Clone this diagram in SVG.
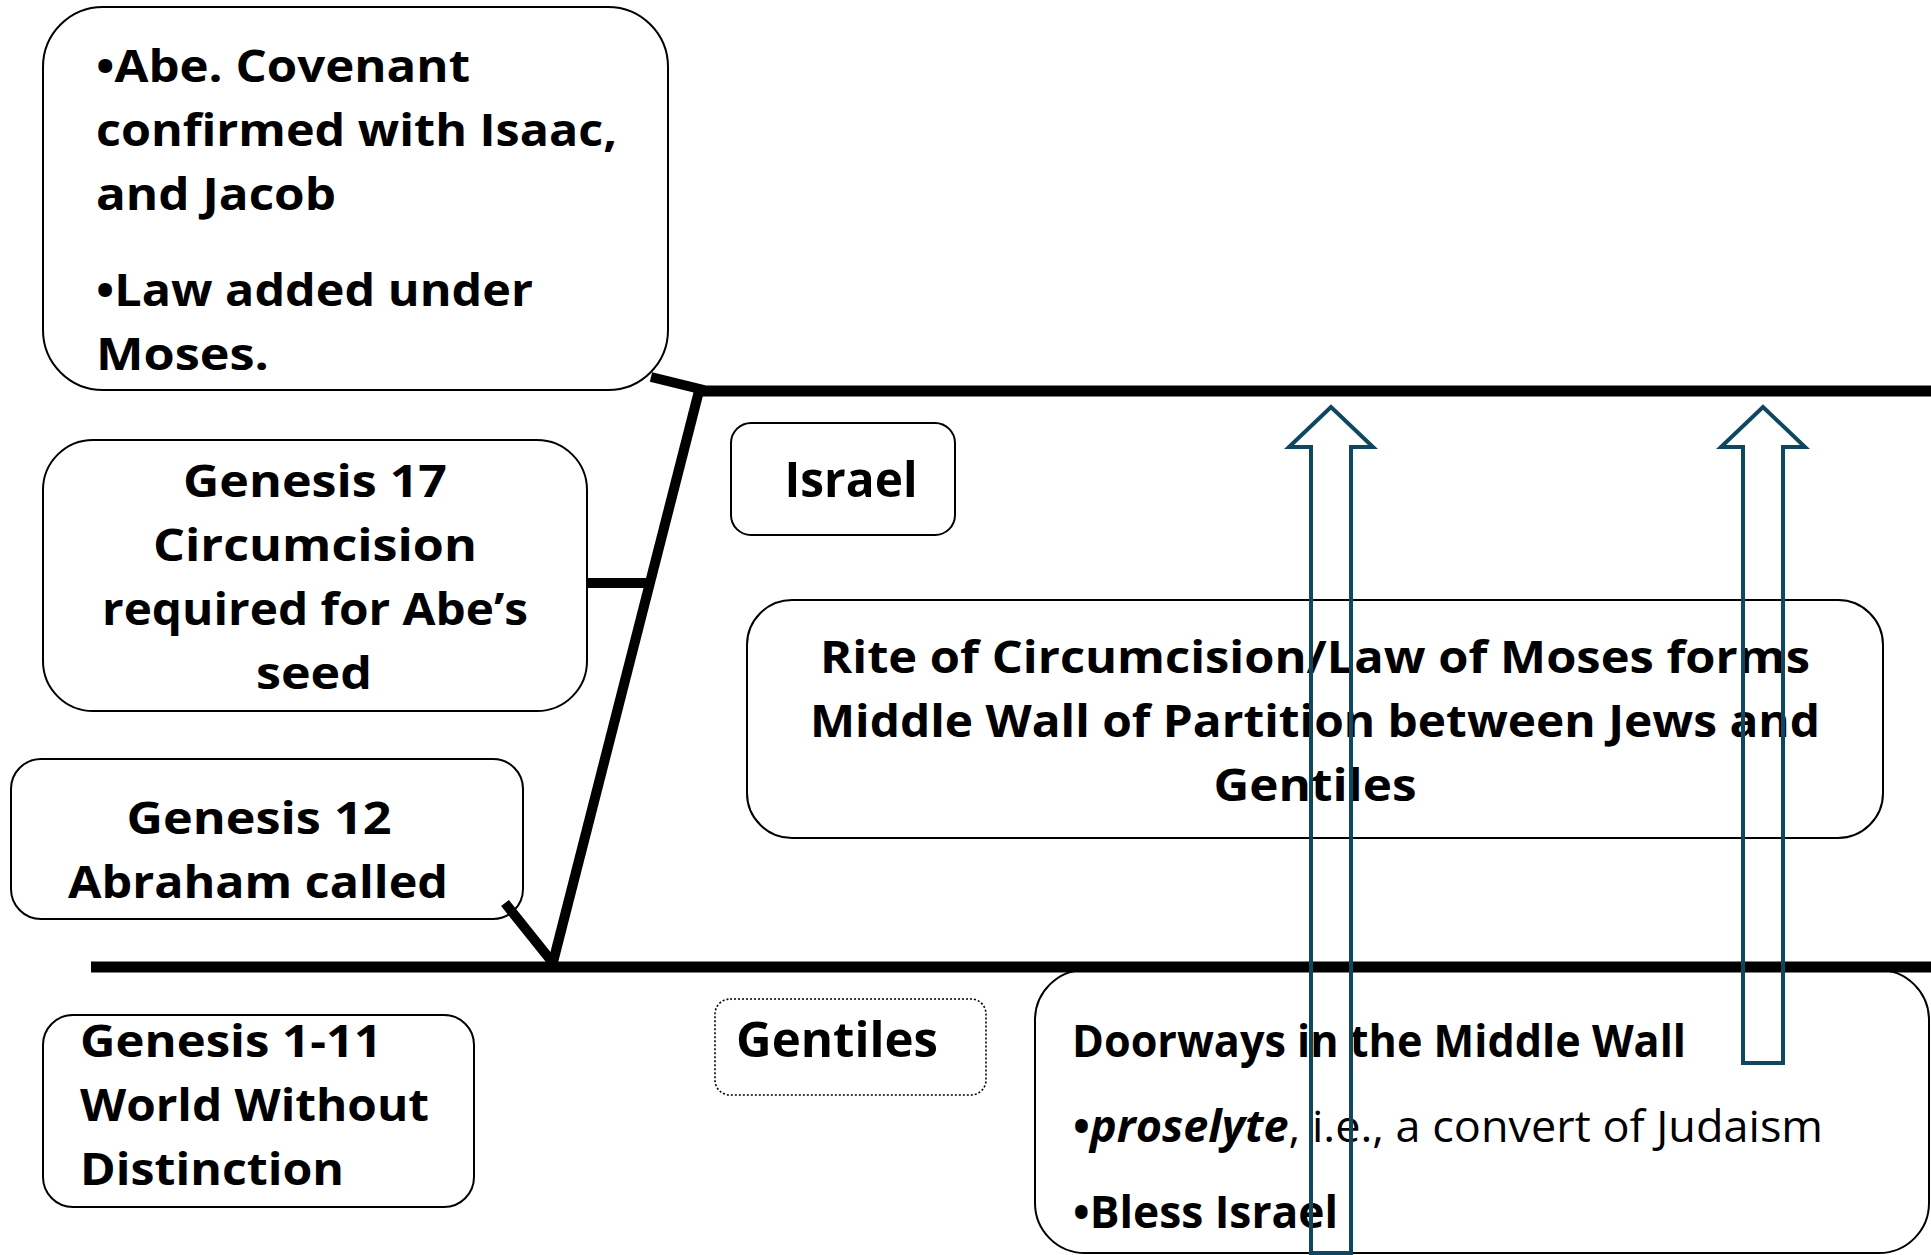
<svg xmlns="http://www.w3.org/2000/svg" width="1931" height="1255" viewBox="0 0 1931 1255">
<style>
.box{fill:#fff;stroke:#000;stroke-width:2}
.dot{fill:#fff;stroke:#000;stroke-width:1.6;stroke-dasharray:2 2}
.t{font-family:"Open Sans","Liberation Sans",sans-serif;font-weight:700;font-size:44px;fill:#000}
.big{font-size:49px}
.reg{font-weight:400}
.it{font-style:italic}
.c{text-anchor:middle}
.ln{stroke:#000;stroke-width:11;fill:none}
.ln2{stroke:#000;stroke-width:10;fill:none}
.arr{fill:none;stroke:#0F4761;stroke-width:4}
</style>
<rect width="1931" height="1255" fill="#fff"/>
<g id="n-covenant">
<rect class="box" x="43" y="7" width="625" height="383" rx="60"/>
<text class="t" x="96" y="82" textLength="374" lengthAdjust="spacingAndGlyphs">•Abe. Covenant</text>
<text class="t" x="96" y="146" textLength="521" lengthAdjust="spacingAndGlyphs">confirmed with Isaac,</text>
<text class="t" x="96" y="210" textLength="240" lengthAdjust="spacingAndGlyphs">and Jacob</text>
<text class="t" x="96" y="306" textLength="437" lengthAdjust="spacingAndGlyphs">•Law added under</text>
<text class="t" x="96" y="370" textLength="173" lengthAdjust="spacingAndGlyphs">Moses.</text>
</g>
<g id="n-gen17">
<rect class="box" x="43" y="440" width="544" height="271" rx="50"/>
<text class="t c" x="315" y="497" textLength="264" lengthAdjust="spacingAndGlyphs">Genesis 17</text>
<text class="t c" x="315" y="561" textLength="324" lengthAdjust="spacingAndGlyphs">Circumcision</text>
<text class="t c" x="315" y="625" textLength="426" lengthAdjust="spacingAndGlyphs">required for Abe’s</text>
<text class="t c" x="314" y="689" textLength="116" lengthAdjust="spacingAndGlyphs">seed</text>
</g>
<g id="n-gen12">
<rect class="box" x="11" y="759" width="512" height="160" rx="30"/>
<text class="t c" x="259" y="834" textLength="265" lengthAdjust="spacingAndGlyphs">Genesis 12</text>
<text class="t c" x="258" y="898" textLength="380" lengthAdjust="spacingAndGlyphs">Abraham called</text>
</g>
<g id="n-gen1-11">
<rect class="box" x="43" y="1015" width="431" height="192" rx="30"/>
<text class="t" x="80" y="1057" textLength="302" lengthAdjust="spacingAndGlyphs">Genesis 1-11</text>
<text class="t" x="80" y="1121" textLength="349" lengthAdjust="spacingAndGlyphs">World Without</text>
<text class="t" x="80" y="1185" textLength="264" lengthAdjust="spacingAndGlyphs">Distinction</text>
</g>
<g id="n-israel">
<rect class="box" x="731" y="423" width="224" height="112" rx="20"/>
<text class="t big c" x="851" y="497" textLength="133" lengthAdjust="spacingAndGlyphs">Israel</text>
</g>
<g id="n-rite">
<rect class="box" x="747" y="600" width="1136" height="238" rx="45"/>
<text class="t c" x="1315" y="673" textLength="990" lengthAdjust="spacingAndGlyphs">Rite of Circumcision/Law of Moses forms</text>
<text class="t c" x="1315" y="737" textLength="1010" lengthAdjust="spacingAndGlyphs">Middle Wall of Partition between Jews and</text>
<text class="t c" x="1315" y="801" textLength="203" lengthAdjust="spacingAndGlyphs">Gentiles</text>
</g>
<g id="n-gentiles">
<rect class="dot" x="715" y="999" width="271" height="96" rx="15"/>
<text class="t big" x="736" y="1057" textLength="202" lengthAdjust="spacingAndGlyphs">Gentiles</text>
</g>
<g id="n-doorways">
<rect class="box" x="1035" y="970" width="894" height="283" rx="50"/>
<text class="t" x="1072" y="1057" textLength="614" lengthAdjust="spacingAndGlyphs">Doorways in the Middle Wall</text>
<text class="t" x="1073" y="1142" textLength="750" lengthAdjust="spacingAndGlyphs">•<tspan class="it">proselyte</tspan><tspan class="reg">, i.e., a convert of Judaism</tspan></text>
<text class="t" x="1073" y="1228" textLength="265" lengthAdjust="spacingAndGlyphs">•Bless Israel</text>
</g>
<g id="connectors">
<line class="ln" x1="91" y1="967" x2="1931" y2="967"/>
<line class="ln" x1="699" y1="391" x2="1931" y2="391"/>
<line class="ln2" x1="552" y1="966" x2="699" y2="391"/>
<line class="ln2" x1="651" y1="377" x2="704" y2="390"/>
<line class="ln2" x1="587" y1="583" x2="646" y2="583"/>
<line class="ln2" x1="505" y1="903" x2="553" y2="963"/>
<path class="arr" d="M1311,1253 V447 H1289 L1331,407 L1373,447 H1351 V1253 Z"/>
<path class="arr" d="M1743,1063 V447 H1721 L1763,407 L1805,447 H1783 V1063 Z"/>
</g>
</svg>
